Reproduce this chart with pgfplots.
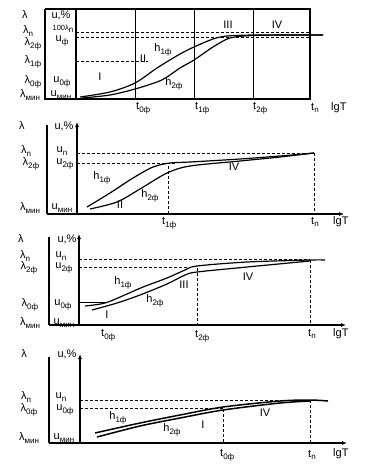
\documentclass[border=0pt]{standalone}
\usepackage{fontspec}
\setmainfont{Liberation Sans}
\usepackage{pgfplots}
\pgfplotsset{compat=1.18}
\usetikzlibrary{arrows.meta}
\newcommand{\sub}[1]{\raisebox{-0.45ex}{\fontsize{8}{8}\selectfont #1}}
\begin{document}
\begin{tikzpicture}[lab/.style={font=\fontsize{11}{12}\selectfont, inner sep=0pt}]
\useasboundingbox (0pt,0pt) rectangle (367pt,-467pt);
\pgfplotsset{panel/.style={scale only axis, x=1pt, y=1pt, xmin=0, xmax=367, y dir=reverse, hide axis, clip=false, anchor=north west},
 ax/.style={black, line width=1.3pt},
 axa/.style={black, line width=1.3pt, -{Latex[length=5pt,width=4pt]}},
 dsh/.style={black, line width=0.9pt, dash pattern=on 3pt off 2pt},
 crv/.style={black, line width=1.2pt, smooth}}
% ---------------- Panel 1 ----------------
\begin{axis}[panel, ymin=0, ymax=118, at={(0pt,0pt)}]
\addplot[ax] coordinates {(45,9) (310,9) (310,99) (45,99) (45,9)};
\addplot[ax] coordinates {(76,9) (76,99)};
\addplot[ax, line width=1pt] coordinates {(135,9) (135,99)};
\addplot[ax, line width=1pt] coordinates {(194,9) (194,99)};
\addplot[ax, line width=1pt] coordinates {(253,9) (253,99)};
\addplot[dsh] coordinates {(76,32) (310,32)};
\addplot[dsh] coordinates {(76,37) (310,37)};
\addplot[dsh] coordinates {(76,61) (148,61)};
\addplot[crv] coordinates {(80,97) (110,92) (135,83) (157,68) (180,54) (194,47) (213,39) (227,36) (253,35) (290,35) (323,35)};
\addplot[crv] coordinates {(82,98) (110,95) (135,89) (157,82) (167,77) (180,68) (194,60) (213,47) (230,38) (253,35.5) (290,35) (323,35)};
\node[lab] at (axis cs:25,15) {λ};
\node[lab] at (axis cs:28,31) {λ\sub{n}};
\node[lab] at (axis cs:33,44) {λ\sub{2ф}};
\node[lab] at (axis cs:33,62) {λ\sub{1ф}};
\node[lab] at (axis cs:33,82) {λ\sub{0ф}};
\node[lab] at (axis cs:30,95) {λ\sub{мин}};
\node[lab] at (axis cs:61,15) {u,\%};
\node[lab, font=\fontsize{7.5}{8}\selectfont] at (axis cs:63,29) {100λ\sub{n}};
\node[lab] at (axis cs:62,41) {u\sub{ф}};
\node[lab] at (axis cs:62,82) {u\sub{0ф}};
\node[lab] at (axis cs:61,95) {u\sub{мин}};
\node[lab] at (axis cs:100,77) {I};
\node[lab] at (axis cs:143,59) {II};
\node[lab] at (axis cs:228,25) {III};
\node[lab] at (axis cs:277,25) {IV};
\node[lab] at (axis cs:163,50) {h\sub{1ф}};
\node[lab] at (axis cs:174,84) {h\sub{2ф}};
\node[lab, anchor=west] at (axis cs:136,108) {t\sub{0ф}};
\node[lab, anchor=west] at (axis cs:195,108) {t\sub{1ф}};
\node[lab, anchor=west] at (axis cs:253,108) {t\sub{2ф}};
\node[lab, anchor=west] at (axis cs:311,108) {t\sub{n}};
\node[lab, anchor=west] at (axis cs:331,108) {lgT};
\end{axis}
% ---------------- Panel 2 ----------------
\begin{axis}[panel, ymin=118, ymax=225, at={(0pt,-118pt)}]
\addplot[ax] coordinates {(47,125) (47,214)};
\addplot[axa] coordinates {(77,214) (77,122)};
\addplot[axa] coordinates {(47,214) (344,214)};
\addplot[dsh] coordinates {(77,153) (314,153)};
\addplot[dsh] coordinates {(77,163) (175,163)};
\addplot[dsh] coordinates {(168,166) (168,214)};
\addplot[dsh] coordinates {(314,153) (314,214)};
\addplot[crv] coordinates {(87,207) (110,193) (133,178) (153,167) (170,163) (190,162) (240,159) (280,156) (314,153)};
\addplot[crv] coordinates {(90,209) (117,202) (140,189) (167,173) (190,166) (240,161) (280,157) (314,153)};
\node[lab] at (axis cs:22,126) {λ};
\node[lab] at (axis cs:64,126) {u,\%};
\node[lab] at (axis cs:26,151) {λ\sub{n}};
\node[lab] at (axis cs:31,164) {λ\sub{2ф}};
\node[lab] at (axis cs:30,208) {λ\sub{мин}};
\node[lab] at (axis cs:62,151) {u\sub{n}};
\node[lab] at (axis cs:65,164) {u\sub{2ф}};
\node[lab] at (axis cs:62,208) {u\sub{мин}};
\node[lab] at (axis cs:102,178) {h\sub{1ф}};
\node[lab] at (axis cs:150,196) {h\sub{2ф}};
\node[lab] at (axis cs:120,205) {II};
\node[lab] at (axis cs:234,167) {IV};
\node[lab, anchor=west] at (axis cs:162,223) {t\sub{1ф}};
\node[lab, anchor=west] at (axis cs:311,222) {t\sub{n}};
\node[lab, anchor=west] at (axis cs:333,222) {lgT};
\end{axis}
% ---------------- Panel 3 ----------------
\begin{axis}[panel, ymin=225, ymax=340, at={(0pt,-225pt)}]
\addplot[ax] coordinates {(49,237) (49,325)};
\addplot[axa] coordinates {(79,325) (79,234)};
\addplot[axa] coordinates {(49,325) (346,325)};
\addplot[dsh] coordinates {(79,259) (310,259)};
\addplot[dsh] coordinates {(79,267) (190,267)};
\addplot[ax, line width=1pt] coordinates {(79,302) (105,302)};
\addplot[dsh] coordinates {(197,268) (197,325)};
\addplot[dsh] coordinates {(310,260) (310,325)};
\addplot[crv] coordinates {(85,306) (105,303) (127,294) (143,287) (167,278) (185,270) (197,266) (247,262) (310,260) (325,260)};
\addplot[crv] coordinates {(92,310) (117,303) (140,295) (167,284) (185,275) (197,272) (247,267) (310,261)};
\node[lab] at (axis cs:21,239) {λ};
\node[lab] at (axis cs:67,239) {u,\%};
\node[lab] at (axis cs:25,256) {λ\sub{n}};
\node[lab] at (axis cs:29,268) {λ\sub{2ф}};
\node[lab] at (axis cs:30,305) {λ\sub{0ф}};
\node[lab] at (axis cs:30,323) {λ\sub{мин}};
\node[lab] at (axis cs:61,256) {u\sub{n}};
\node[lab] at (axis cs:64,268) {u\sub{2ф}};
\node[lab] at (axis cs:63,305) {u\sub{0ф}};
\node[lab] at (axis cs:64,323) {u\sub{мин}};
\node[lab] at (axis cs:123,283) {h\sub{1ф}};
\node[lab] at (axis cs:155,301) {h\sub{2ф}};
\node[lab] at (axis cs:107,315) {I};
\node[lab] at (axis cs:184,285) {III};
\node[lab] at (axis cs:248,277) {IV};
\node[lab, anchor=west] at (axis cs:101,335) {t\sub{0ф}};
\node[lab, anchor=west] at (axis cs:195,336) {t\sub{2ф}};
\node[lab, anchor=west] at (axis cs:308,334) {t\sub{n}};
\node[lab, anchor=west] at (axis cs:333,334) {lgT};
\end{axis}
% ---------------- Panel 4 ----------------
\begin{axis}[panel, ymin=340, ymax=467, at={(0pt,-340pt)}]
\addplot[ax] coordinates {(49,357) (49,443)};
\addplot[axa] coordinates {(80,443) (80,354)};
\addplot[axa] coordinates {(49,443) (347,443)};
\addplot[dsh] coordinates {(80,400) (310,400)};
\addplot[dsh] coordinates {(80,408) (223,408)};
\addplot[dsh] coordinates {(223,409) (223,443)};
\addplot[dsh] coordinates {(310,400) (310,443)};
\addplot[crv, line width=1.5pt] coordinates {(95,433) (140,423) (180,415) (223,407) (280,401) (310,400) (328,401)};
\addplot[crv, line width=1.5pt] coordinates {(97,437) (140,426) (180,418) (223,410) (280,403) (310,401)};
\node[lab] at (axis cs:24,354) {λ};
\node[lab] at (axis cs:67,354) {u,\%};
\node[lab] at (axis cs:26,397) {λ\sub{n}};
\node[lab] at (axis cs:29,410) {λ\sub{0ф}};
\node[lab] at (axis cs:29,438) {λ\sub{мин}};
\node[lab] at (axis cs:61,397) {u\sub{n}};
\node[lab] at (axis cs:65,410) {u\sub{0ф}};
\node[lab] at (axis cs:64,438) {u\sub{мин}};
\node[lab] at (axis cs:118,418) {h\sub{1ф}};
\node[lab] at (axis cs:172,430) {h\sub{2ф}};
\node[lab] at (axis cs:203,425) {I};
\node[lab] at (axis cs:265,413) {IV};
\node[lab, anchor=west] at (axis cs:220,455) {t\sub{0ф}};
\node[lab, anchor=west] at (axis cs:308,455) {t\sub{n}};
\node[lab, anchor=west] at (axis cs:333,454) {lgT};
\end{axis}
\end{tikzpicture}
\end{document}
